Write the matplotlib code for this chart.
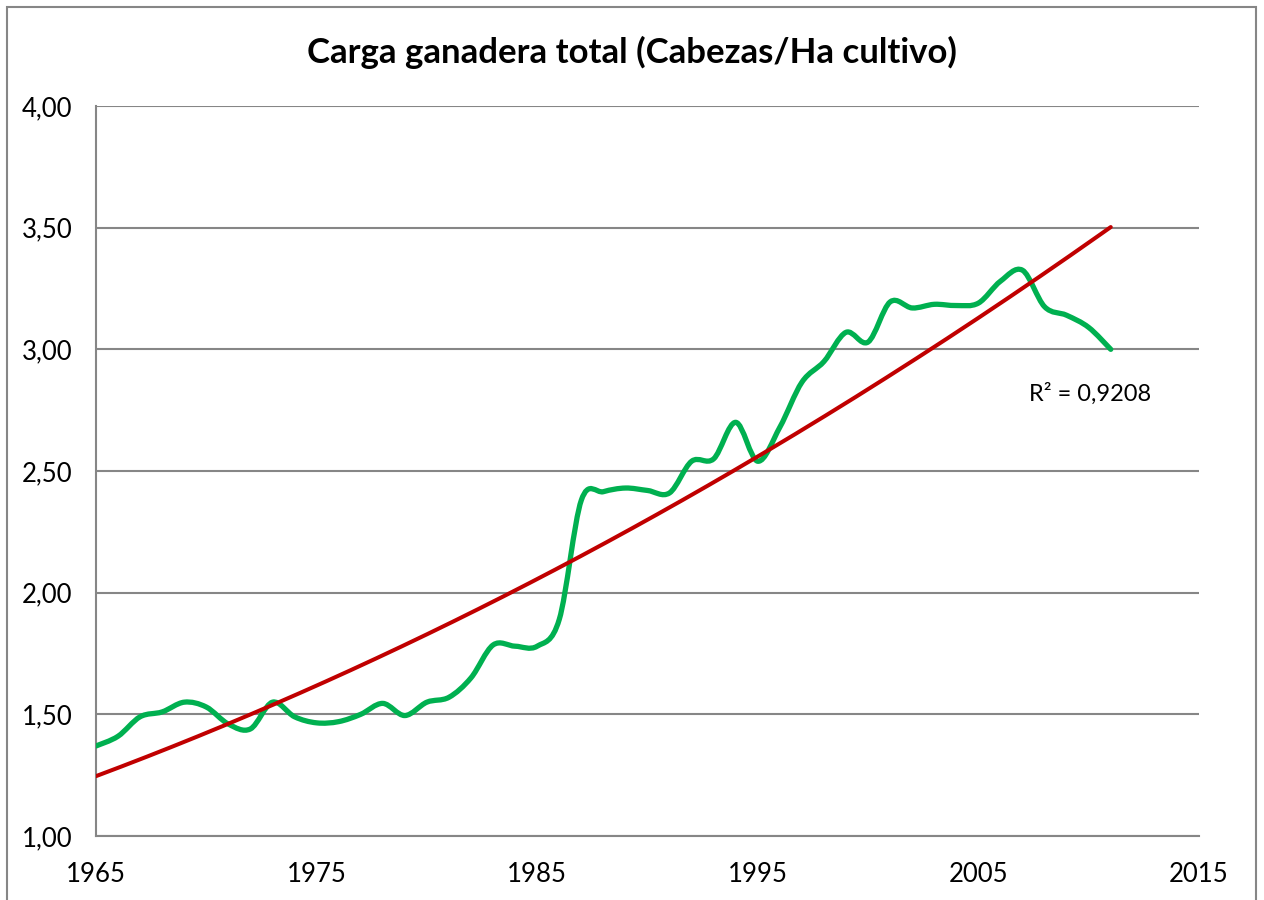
import numpy as np
from matplotlib import pyplot as plt
from matplotlib.path import Path
from matplotlib.patches import PathPatch, Rectangle

plt.rcParams['font.family'] = ['Lato', 'DejaVu Sans']

# años y carga ganadera (cabezas / ha de cultivo)
anios = list(range(1965, 2012))
carga = [1.37, 1.41, 1.49, 1.51, 1.55, 1.53, 1.46, 1.44, 1.55, 1.49,
         1.465, 1.47, 1.50, 1.545, 1.495, 1.55, 1.57, 1.65, 1.785, 1.78,
         1.78, 1.89, 2.38, 2.415, 2.43, 2.42, 2.41, 2.54, 2.55, 2.70,
         2.54, 2.68, 2.865, 2.95, 3.07, 3.03, 3.195, 3.17, 3.185, 3.18,
         3.19, 3.28, 3.325, 3.175, 3.14, 3.09, 3.00]

# tendencia polinómica (grado 2) sobre t = año - 1965, R² = 0,9208
tendencia = [0.000329, 0.03392, 1.246]

x_ticks = [1965, 1975, 1985, 1995, 2005, 2015]
y_ticks = [1.0, 1.5, 2.0, 2.5, 3.0, 3.5, 4.0]
y_labels = ['1,00', '1,50', '2,00', '2,50', '3,00', '3,50', '4,00']

verde = '#00B050'
rojo = '#C00000'
gris = '#868686'


def linea_suavizada(xs, ys):
    # curva tipo "línea suavizada" de Excel (Bezier con tangentes Catmull-Rom)
    pts = np.column_stack([xs, ys]).astype(float)
    n = len(pts)
    verts = [pts[0]]
    codes = [Path.MOVETO]
    for i in range(n - 1):
        p0 = pts[i - 1] if i > 0 else pts[i]
        p1 = pts[i]
        p2 = pts[i + 1]
        p3 = pts[i + 2] if i + 2 < n else pts[i + 1]
        c1 = p1 + (p2 - p0) / 6.0
        c2 = p2 - (p3 - p1) / 6.0
        verts += [c1, c2, p2]
        codes += [Path.CURVE4] * 3
    return Path(verts, codes)


fig = plt.figure(figsize=(12.64, 9.0), dpi=100)
ax = fig.add_axes([96 / 1264, 1 - 836 / 900, (1199 - 96) / 1264, (836 - 106) / 900])

# marco exterior del gráfico
fig.patches.append(Rectangle((7 / 1264, -0.05), 1249 / 1264, 1.05 - 7 / 900,
                             transform=fig.transFigure, fill=False,
                             edgecolor=gris, linewidth=1.5))

ax.add_patch(PathPatch(linea_suavizada(anios, carga), fill=False,
                       edgecolor=verde, linewidth=3.8, capstyle='round',
                       joinstyle='round', zorder=3))

xt = np.linspace(anios[0], anios[-1], 200)
ax.plot(xt, np.polyval(tendencia, xt - 1965), color=rojo, linewidth=2.9,
        solid_capstyle='round', zorder=4)

ax.text(2007.3, 2.816, 'R² = 0,9208', fontsize=17, va='center', ha='left')

ax.set_xlim(1965, 2015)
ax.set_ylim(1.0, 4.0)
ax.set_xticks(x_ticks)
ax.set_yticks(y_ticks)
ax.set_yticklabels(y_labels)
ax.tick_params(length=0, labelsize=18.5, colors='black')
ax.tick_params(axis='y', pad=17)
ax.tick_params(axis='x', pad=19)
ax.grid(True, axis='y', color=gris, linewidth=1.5)
ax.set_axisbelow(True)
for lado in ['top', 'right']:
    ax.spines[lado].set_visible(False)
for lado in ['left', 'bottom']:
    ax.spines[lado].set_color(gris)
    ax.spines[lado].set_linewidth(1.5)

fig.text(0.5, 1 - 52 / 900, 'Carga ganadera total (Cabezas/Ha cultivo)',
         ha='center', va='center', fontsize=25, fontweight='bold')

fig.savefig('out.png', dpi=100)
